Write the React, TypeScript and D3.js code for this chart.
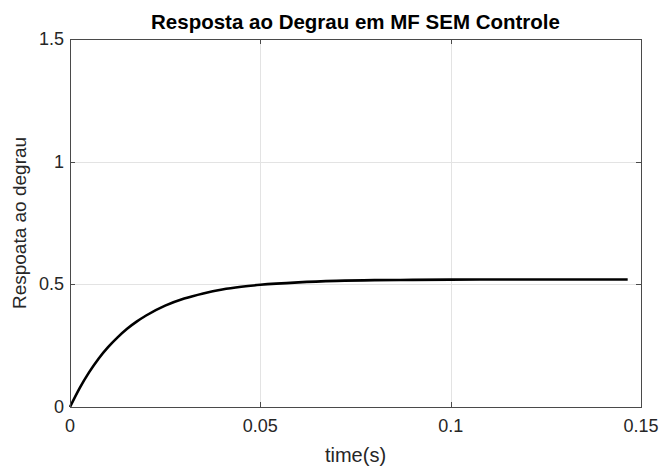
import React, { useEffect, useRef } from "react";
import * as d3 from "d3";

// step response (time in s, response)
const times = [0, 0.0025, 0.005, 0.0075, 0.01, 0.0125, 0.015, 0.0175, 0.02, 0.025, 0.03, 0.035, 0.04, 0.045, 0.05, 0.06, 0.07, 0.08, 0.09, 0.1, 0.11, 0.12, 0.13, 0.1465];
const response = [0, 0.076, 0.141, 0.197, 0.244, 0.284, 0.319, 0.348, 0.373, 0.413, 0.442, 0.463, 0.479, 0.49, 0.498, 0.508, 0.514, 0.517, 0.518, 0.519, 0.52, 0.52, 0.52, 0.52];

const xTicks = [0, 0.05, 0.1, 0.15];
const yTicks = [0, 0.5, 1, 1.5];

const title = "Resposta ao Degrau em MF SEM Controle";
const xLabel = "time(s)";
const yLabel = "Respoata ao degrau";

export default function App() {
  const chartRef = useRef<SVGSVGElement>(null);

  useEffect(() => {
    const svg = d3.select(chartRef.current);
    svg.selectAll("*").remove();

    const width = 662;
    const height = 468;
    const margin = { top: 39, right: 21, bottom: 61, left: 70 };
    const font = "'Liberation Sans', Arial, sans-serif";
    const axisColor = "#4a4a4a";
    const textColor = "#262626";

    svg.attr("width", width).attr("height", height);
    svg.append("rect").attr("width", width).attr("height", height).attr("fill", "#fff");

    const x = d3.scaleLinear().domain([0, 0.15]).range([margin.left, width - margin.right]);
    const y = d3.scaleLinear().domain([0, 1.5]).range([height - margin.bottom, margin.top]);

    // grid
    const grid = svg.append("g").attr("stroke", "#e3e3e3").attr("stroke-width", 1);
    grid.selectAll(".gx")
      .data(xTicks.slice(1, -1))
      .join("line")
      .attr("x1", d => Math.round(x(d)) + 0.5)
      .attr("x2", d => Math.round(x(d)) + 0.5)
      .attr("y1", y(1.5))
      .attr("y2", y(0));
    grid.selectAll(".gy")
      .data(yTicks.slice(1, -1))
      .join("line")
      .attr("y1", d => Math.round(y(d)) + 0.5)
      .attr("y2", d => Math.round(y(d)) + 0.5)
      .attr("x1", x(0))
      .attr("x2", x(0.15));

    // curve
    const line = d3.line<number>()
      .x((d, i) => x(times[i]))
      .y(d => y(d))
      .curve(d3.curveMonotoneX);
    svg.append("path")
      .datum(response)
      .attr("d", line)
      .attr("fill", "none")
      .attr("stroke", "#000")
      .attr("stroke-width", 2.6);

    // box
    svg.append("rect")
      .attr("x", x(0) + 0.5)
      .attr("y", y(1.5) + 0.5)
      .attr("width", x(0.15) - x(0))
      .attr("height", y(0) - y(1.5))
      .attr("fill", "none")
      .attr("stroke", axisColor)
      .attr("stroke-width", 1);

    const tickLen = 5;
    const ticks = svg.append("g").attr("stroke", axisColor).attr("stroke-width", 1);
    xTicks.forEach(t => {
      const px = Math.round(x(t)) + 0.5;
      ticks.append("line").attr("x1", px).attr("x2", px).attr("y1", y(0)).attr("y2", y(0) - tickLen);
      ticks.append("line").attr("x1", px).attr("x2", px).attr("y1", y(1.5)).attr("y2", y(1.5) + tickLen);
    });
    yTicks.forEach(t => {
      const py = Math.round(y(t)) + 0.5;
      ticks.append("line").attr("y1", py).attr("y2", py).attr("x1", x(0)).attr("x2", x(0) + tickLen);
      ticks.append("line").attr("y1", py).attr("y2", py).attr("x1", x(0.15)).attr("x2", x(0.15) - tickLen);
    });

    // tick labels
    svg.append("g")
      .selectAll("text")
      .data(xTicks)
      .join("text")
      .attr("x", d => x(d))
      .attr("y", y(0) + 25)
      .attr("text-anchor", "middle")
      .attr("font-family", font)
      .attr("font-size", 18)
      .attr("fill", textColor)
      .text(d => String(d));

    svg.append("g")
      .selectAll("text")
      .data(yTicks)
      .join("text")
      .attr("x", x(0) - 6)
      .attr("y", d => y(d) + 6)
      .attr("text-anchor", "end")
      .attr("font-family", font)
      .attr("font-size", 18)
      .attr("fill", textColor)
      .text(d => String(d));

    // labels
    svg.append("text")
      .attr("x", (x(0) + x(0.15)) / 2)
      .attr("y", 29)
      .attr("text-anchor", "middle")
      .attr("font-family", font)
      .attr("font-size", 20.5)
      .attr("font-weight", "bold")
      .attr("fill", "#000")
      .text(title);

    svg.append("text")
      .attr("x", (x(0) + x(0.15)) / 2)
      .attr("y", 462)
      .attr("text-anchor", "middle")
      .attr("font-family", font)
      .attr("font-size", 20)
      .attr("fill", textColor)
      .text(xLabel);

    svg.append("text")
      .attr("transform", `translate(26,${(y(0) + y(1.5)) / 2}) rotate(-90)`)
      .attr("text-anchor", "middle")
      .attr("font-family", font)
      .attr("font-size", 19)
      .attr("fill", textColor)
      .text(yLabel);
  }, []);

  return <svg ref={chartRef} style={{ position: "absolute", left: 0, top: 0 }}></svg>;
}
